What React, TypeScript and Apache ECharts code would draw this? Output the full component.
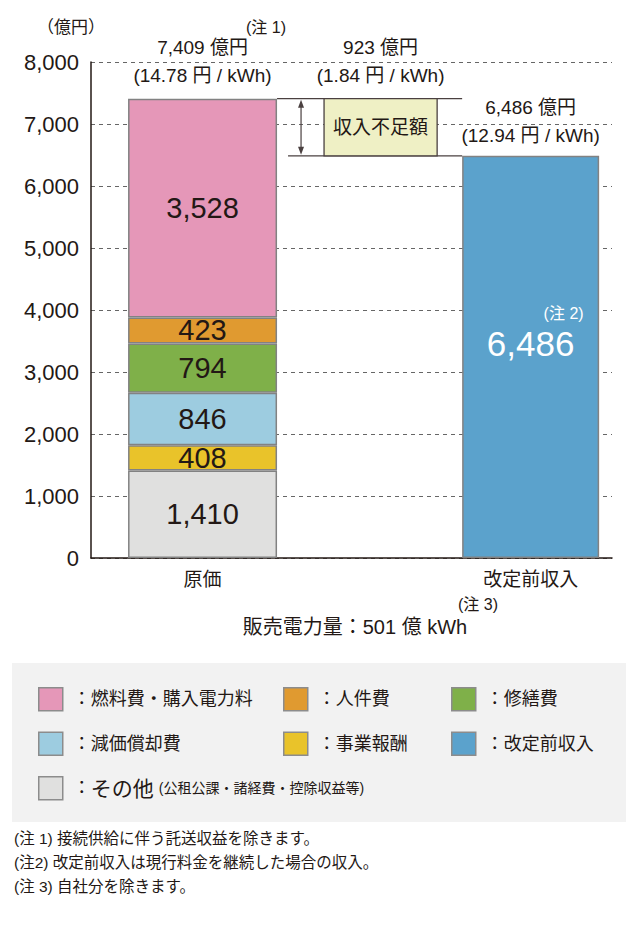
import React, { useEffect, useRef } from 'react';
import * as echarts from 'echarts';

// ---------- data ----------
const categories = ['原価', '改定前収入'];
const costNames = ['その他', '事業報酬', '減価償却費', '修繕費', '人件費', '燃料費・購入電力料'];
const costValues = [1410, 408, 846, 794, 423, 3528];
const costColors = ['#E0E0DF', '#E9C32A', '#9DCCE0', '#7FB049', '#E09A30', '#E597B8'];
const revenueName = '改定前収入';
const revenueValue = 6486;
const revenueColor = '#5BA2CC';
const totalCost = 7409;
const shortfall = 923;
const unitPrices = ['14.78', '1.84', '12.94'];
const yMin = 0;
const yMax = 8000;
const yInterval = 1000;
const salesVolume = 501;
const legendColumns = [
  ['燃料費・購入電力料', '減価償却費', 'その他'],
  ['人件費', '事業報酬'],
  ['修繕費', '改定前収入'],
];
const footnotes = [
  '(注 1) 接続供給に伴う託送収益を除きます。',
  '(注2) 改定前収入は現行料金を継続した場合の収入。',
  '(注 3) 自社分を除きます。',
];

// ---------- style ----------
const FONT = '"Liberation Sans", Arial, "Noto Sans CJK JP", sans-serif';
const INK = '#231815';
const BAR1_W = 149;
const BAR2_W = 137;
const EDGE = '#828282';

const fmt = (v: number) => v.toLocaleString('en-US');

export default function App() {
  const ref = useRef<HTMLDivElement>(null);

  useEffect(() => {
    if (!ref.current) return;
    const chart = echarts.init(ref.current, null, { renderer: 'svg' });

    // data given as [value, xPosition] so that the stacked dimension is the value (y)
    const costSeries = costNames.map((name, i) => ({
      name,
      type: 'bar',
      stack: 'cost',
      xAxisIndex: 0,
      yAxisIndex: 0,
      barWidth: BAR1_W,
      encode: { x: 1, y: 0 },
      data: [[costValues[i], 0]],
      itemStyle: { color: costColors[i], borderColor: EDGE, borderWidth: 1.5 },
      label: {
        show: true,
        position: 'inside',
        fontSize: 29,
        fontFamily: FONT,
        color: INK,
        formatter: () => fmt(costValues[i]),
      },
      emphasis: { disabled: true },
      z: 2,
    }));

    const revenueSeries = {
      name: revenueName,
      type: 'bar',
      xAxisIndex: 1,
      yAxisIndex: 0,
      barWidth: BAR2_W,
      data: [[1, revenueValue]],
      itemStyle: { color: revenueColor, borderColor: EDGE, borderWidth: 1.5 },
      label: {
        show: true,
        position: ['50%', 150],
        align: 'center',
        verticalAlign: 'top',
        formatter: () => `{note|(注 2)}\n{val|${fmt(revenueValue)}}`,
        rich: {
          note: { fontSize: 16, fontFamily: FONT, color: '#ffffff', padding: [0, 0, 0, 66], lineHeight: 16, align: 'center' },
          val: { fontSize: 35, fontFamily: FONT, color: '#ffffff', lineHeight: 44, align: 'center' },
        },
      },
      emphasis: { disabled: true },
      z: 2,
    };

    const annotationSeries = {
      name: 'annotation',
      type: 'custom',
      xAxisIndex: 0,
      yAxisIndex: 0,
      clip: false,
      silent: true,
      z: 5,
      data: [[0, totalCost, revenueValue]],
      renderItem: (_params: any, api: any) => {
        const p1 = api.coord([0, api.value(1)]);
        const p2 = api.coord([1, api.value(2)]);
        const b1R = p1[0] + BAR1_W / 2;
        const b2L = p2[0] - BAR2_W / 2;
        const yA = p1[1];
        const yB = p2[1];
        const arrowX = b1R + 24;
        const boxL = b1R + 47;
        const boxR = b2L - 25;
        const boxC = (boxL + boxR) / 2;
        const stroke = '#4a4040';
        const txt = (text: string, x: number, y: number, size: number, fill = INK) => ({
          type: 'text',
          style: { text, x, y, fill, fontSize: size, fontFamily: FONT, align: 'center', verticalAlign: 'middle' },
        });
        return {
          type: 'group',
          children: [
            { type: 'line', shape: { x1: b1R, y1: yA, x2: b2L, y2: yA }, style: { stroke, lineWidth: 1.3 } },
            { type: 'line', shape: { x1: b1R + 11, y1: yB, x2: b2L, y2: yB }, style: { stroke, lineWidth: 1.3 } },
            {
              type: 'rect',
              shape: { x: boxL, y: yA, width: boxR - boxL, height: yB - yA },
              style: { fill: '#EFF0C5', stroke, lineWidth: 1.3 },
            },
            txt('収入不足額', boxC, (yA + yB) / 2, 19),
            { type: 'line', shape: { x1: arrowX, y1: yA + 4, x2: arrowX, y2: yB - 4 }, style: { stroke, lineWidth: 1.2 } },
            { type: 'polygon', shape: { points: [[arrowX, yA + 1], [arrowX - 3, yA + 9], [arrowX + 3, yA + 9]] }, style: { fill: stroke } },
            { type: 'polygon', shape: { points: [[arrowX, yB - 1], [arrowX - 3, yB - 9], [arrowX + 3, yB - 9]] }, style: { fill: stroke } },
            txt(`${fmt(totalCost)} 億円`, p1[0], yA - 51, 19),
            txt(`(${unitPrices[0]} 円 / kWh)`, p1[0], yA - 23, 19),
            txt('(注 1)', b1R - 11, yA - 71, 16),
            txt(`${fmt(shortfall)} 億円`, boxC, yA - 51, 19),
            txt(`(${unitPrices[1]} 円 / kWh)`, boxC, yA - 23, 19),
            txt(`${fmt(revenueValue)} 億円`, p2[0], yB - 48, 19),
            txt(`(${unitPrices[2]} 円 / kWh)`, p2[0], yB - 20, 19),
          ],
        };
      },
    };

    const xMin = -0.34;
    const xMax = 1.248;

    const legendBase = {
      orient: 'vertical',
      top: 687,
      padding: 0,
      itemGap: 20,
      itemWidth: 24,
      itemHeight: 23,
      icon: 'rect',
      selectedMode: false,
      itemStyle: { borderColor: '#8c8c8c', borderWidth: 1.5 },
      textStyle: {
        fontSize: 18,
        fontFamily: FONT,
        color: INK,
        rich: {
          b: { fontSize: 21, fontFamily: FONT, color: INK },
          s: { fontSize: 14, fontFamily: FONT, color: INK },
        },
      },
      formatter: (name: string) =>
        name === 'その他' ? ' ：{b|その他} {s|(公租公課・諸経費・控除収益等)}' : ` ：${name}`,
    };
    const legendLefts = [38, 283, 451];

    const centerText = (text: string, x: number, y: number, size: number, align = 'center') => ({
      type: 'text',
      style: {
        text, x, y, fill: INK, fontSize: size, fontFamily: FONT,
        align, verticalAlign: 'middle', textAlign: align, textVerticalAlign: 'middle',
      },
    });

    const option: any = {
      animation: false,
      backgroundColor: '#ffffff',
      textStyle: { fontFamily: FONT },
      grid: { left: 91, right: 28, top: 62, height: 496 },
      xAxis: [
        {
          type: 'value',
          min: xMin,
          max: xMax,
          axisLine: { show: true, onZero: false, lineStyle: { color: INK, width: 1.5 } },
          axisTick: { show: false },
          splitLine: { show: false },
          axisLabel: {
            customValues: [0, 1],
            formatter: (v: number) => categories[Math.round(v)] ?? '',
            fontSize: 19,
            fontFamily: FONT,
            color: INK,
            margin: 12,
          },
        },
        {
          type: 'value',
          min: xMin,
          max: xMax,
          show: false,
          splitLine: { show: false },
        },
      ],
      yAxis: {
        type: 'value',
        min: yMin,
        max: yMax,
        interval: yInterval,
        axisLine: { show: true, onZero: false, lineStyle: { color: INK, width: 1.5 } },
        axisTick: { show: false },
        axisLabel: { fontSize: 22, fontFamily: FONT, color: INK, margin: 12, formatter: (v: number) => fmt(v) },
        splitLine: { show: true, lineStyle: { type: [4, 4], color: '#666666', width: 1 } },
      },
      legend: legendColumns.map((data, i) => ({ ...legendBase, left: legendLefts[i], data })),
      graphic: [
        { type: 'rect', z: -10, shape: { x: 12, y: 663, width: 614, height: 159 }, style: { fill: '#F2F2F2' } },
        centerText('（億円）', 71, 27, 17),
        centerText('(注 3)', 478, 604, 16),
        centerText(`販売電力量：${salesVolume} 億 kWh`, 355, 627, 20),
        ...footnotes.map((t, i) => centerText(t, 14, 838 + i * 24, 15.5, 'left')),
      ],
      series: [...costSeries, revenueSeries, annotationSeries],
    };

    chart.setOption(option);
    return () => chart.dispose();
  }, []);

  return <div ref={ref} style={{ position: 'fixed', left: 0, top: 0, width: 640, height: 938 }} />;
}
